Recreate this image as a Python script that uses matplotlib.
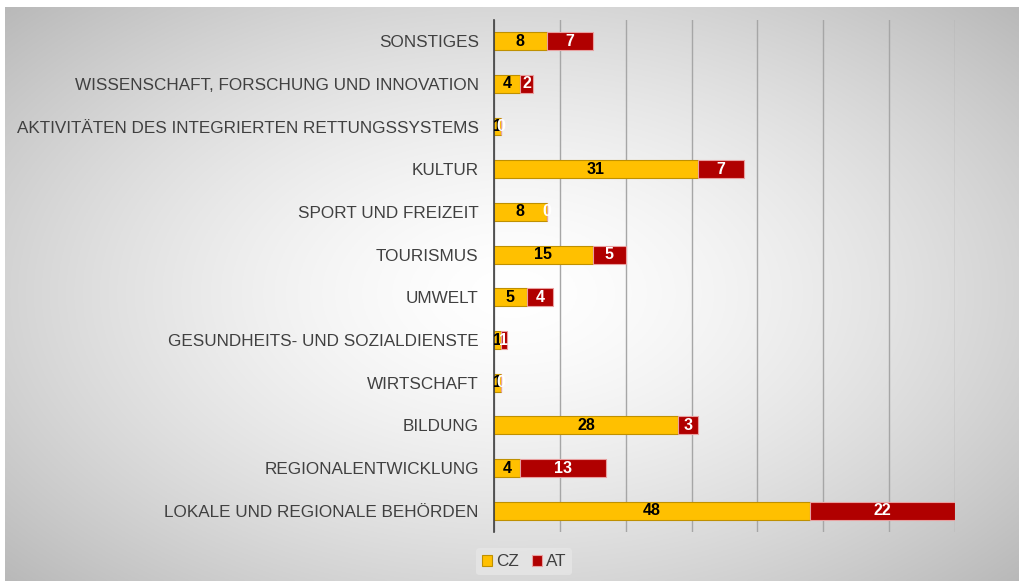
import numpy as np
import matplotlib.pyplot as plt

plt.rcParams['font.family'] = ['Liberation Sans', 'DejaVu Sans']

# Daten (von oben nach unten)
kategorien = ["SONSTIGES", "WISSENSCHAFT, FORSCHUNG UND INNOVATION",
              "AKTIVITÄTEN DES INTEGRIERTEN RETTUNGSSYSTEMS", "KULTUR",
              "SPORT UND FREIZEIT", "TOURISMUS", "UMWELT",
              "GESUNDHEITS- UND SOZIALDIENSTE", "WIRTSCHAFT", "BILDUNG",
              "REGIONALENTWICKLUNG", "LOKALE UND REGIONALE BEHÖRDEN"]
cz = [8, 4, 1, 31, 8, 15, 5, 1, 1, 28, 4, 48]
at = [7, 2, 0, 7, 0, 5, 4, 1, 0, 3, 13, 22]

fig = plt.figure(figsize=(10.24, 5.81), dpi=100)
fig.patch.set_facecolor("white")

# Hintergrund mit radialem Verlauf
bg = fig.add_axes([0.005, 0.0, 0.99, 0.988])
yy, xx = np.mgrid[-1:1:300j, -1:1:500j]
r = np.sqrt((xx * 0.9) ** 2 + (yy * 0.85) ** 2)
grad = 1.0 - 0.2 * np.clip(r, 0, 1.3) ** 1.5
bg.imshow(np.dstack([grad, grad, grad]), aspect="auto", extent=[0, 1, 0, 1])
bg.set_axis_off()

ax = fig.add_axes([0.4824, 0.084, 0.4502, 0.882])
ax.patch.set_alpha(0)
y = np.arange(len(kategorien))
h = 0.42
b1 = ax.barh(y, cz, height=h, color="#FFC000", edgecolor="#BF9000", linewidth=0.8, label="CZ")
b2 = ax.barh(y, at, left=cz, height=h, color="#B00000", edgecolor="#E8A0A0", linewidth=0.8, label="AT")

for i in range(len(kategorien)):
    ax.text(cz[i] / 2, y[i], str(cz[i]), ha="center", va="center",
            fontsize=11.5, fontweight="bold", color="black")
    ax.text(cz[i] + at[i] / 2, y[i], str(at[i]), ha="center", va="center",
            fontsize=11.5, fontweight="bold", color="white")

ax.set_xlim(0, 70)
ax.set_ylim(len(kategorien) - 0.5, -0.5)
ax.set_yticks(y)
ax.set_yticklabels(kategorien, fontsize=12.3, color="#404040")
ax.set_xticks(np.arange(0, 71, 10))
ax.set_xticklabels([])
ax.tick_params(axis="x", length=0)
ax.tick_params(axis="y", length=0, pad=11)
ax.grid(axis="x", color="#A6A6A6", linewidth=1)
ax.set_axisbelow(True)
for s in ["top", "right", "bottom"]:
    ax.spines[s].set_visible(False)
ax.spines["left"].set_color("#404040")
ax.spines["left"].set_linewidth(1.2)

leg = fig.legend(handles=[b1, b2], loc="center", bbox_to_anchor=(0.512, 0.033),
                 ncol=2, frameon=True, fontsize=12.3, handlelength=0.6, handleheight=0.6,
                 handletextpad=0.2, columnspacing=0.8, borderpad=0.35)
leg.get_frame().set_facecolor("#E6E6E6")
leg.get_frame().set_edgecolor("none")
for t in leg.get_texts():
    t.set_color("#404040")

fig.savefig("out.png", dpi=100)
